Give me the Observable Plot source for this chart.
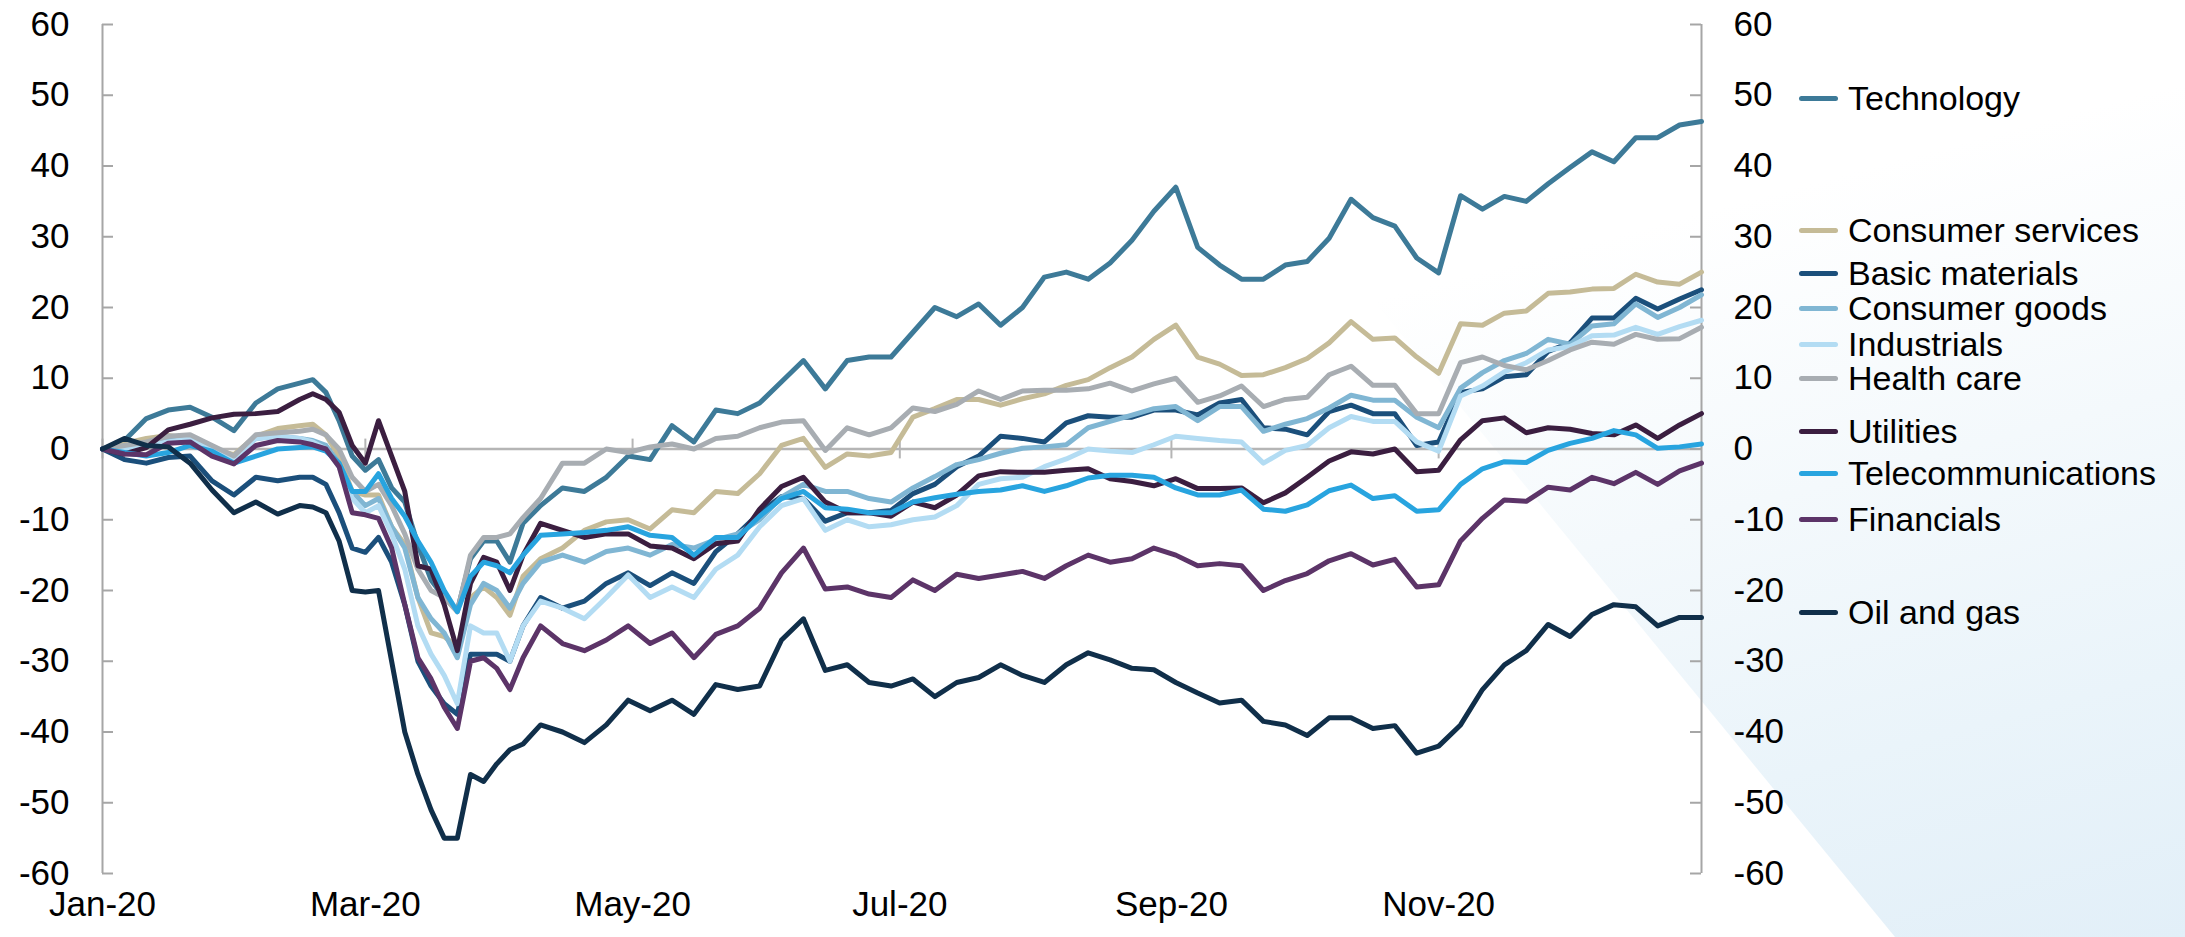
<!DOCTYPE html>
<html>
<head>
<meta charset="utf-8">
<script src="https://cdn.jsdelivr.net/npm/d3@7"></script>
<script src="https://cdn.jsdelivr.net/npm/@observablehq/plot@0.6"></script>
<style>
html, body { margin: 0; padding: 0; background: #ffffff; }
#wrap { position: relative; width: 2185px; height: 937px; overflow: hidden; font-family: "Liberation Sans", Arial, sans-serif; }
#bg { position: absolute; left: 1127px; top: 0; width: 1058px; height: 937px;
      clip-path: polygon(0 0, 1058px 0, 1058px 937px, 768px 937px);
      background: linear-gradient(165deg, #ffffff 0%, #ffffff 30%, #f4f9fc 55%, #eaf4fa 78%, #e2eff8 100%); }
#chart { position: absolute; left: 0; top: 0; }
#legend { position: absolute; left: 0; top: 0; width: 2185px; height: 937px; }
.item { position: absolute; left: 1799px; height: 36px; line-height: 36px; display: flex; align-items: center;
        font-size: 34px; color: #000; white-space: nowrap; }
.item .sw { width: 39px; height: 5px; border-radius: 3px; margin-right: 10px; flex: none; }
</style>
</head>
<body>
<div id="wrap"><div id="bg"></div><div id="chart"></div><div id="legend"></div></div>
<script>
// ---- data ----
const dates = ["2020-01-01","2020-01-06","2020-01-11","2020-01-16","2020-01-21","2020-01-26","2020-01-31","2020-02-05","2020-02-10","2020-02-15",
"2020-02-18","2020-02-21","2020-02-24","2020-02-27","2020-03-01","2020-03-04","2020-03-07","2020-03-10","2020-03-13","2020-03-16","2020-03-19","2020-03-22","2020-03-25","2020-03-28","2020-03-31","2020-04-03","2020-04-06",
"2020-04-10","2020-04-15","2020-04-20","2020-04-25","2020-04-30","2020-05-05","2020-05-10","2020-05-15","2020-05-20","2020-05-25","2020-05-30","2020-06-04","2020-06-09","2020-06-14","2020-06-19","2020-06-24","2020-06-29",
"2020-07-04","2020-07-09","2020-07-14","2020-07-19","2020-07-24","2020-07-29","2020-08-03","2020-08-08","2020-08-13","2020-08-18","2020-08-23","2020-08-28","2020-09-02","2020-09-07","2020-09-12","2020-09-17","2020-09-22","2020-09-27",
"2020-10-02","2020-10-07","2020-10-12","2020-10-17","2020-10-22","2020-10-27","2020-11-01","2020-11-06","2020-11-11","2020-11-16","2020-11-21","2020-11-26","2020-12-01","2020-12-06","2020-12-11","2020-12-16","2020-12-21","2020-12-26","2020-12-31"];

const technology = [0,1.2,4.3,5.5,5.9,4.5,2.6,6.5,8.5,9.3,
 9.8,8,4,-1,-3,-1.5,-5.5,-7.5,-13.5,-18.5,-21,-22.8,-15.5,-13,-13,-16,-10.5,
 -8,-5.5,-6,-4,-1,-1.5,3.3,1,5.5,5,6.5,9.5,12.5,8.5,12.5,13,13,
 16.5,20,18.7,20.5,17.5,20,24.3,25,24,26.3,29.5,33.6,37,28.5,26,24,24,26,
 26.5,29.8,35.3,32.7,31.5,27,24.9,35.8,33.9,35.7,35,37.5,39.8,42,40.6,44,44,45.8,46.3];
const consumerServices = [0,0.8,1.5,1.9,1.5,0,-0.8,1.8,2.9,3.3,
 3.5,2,-1,-6,-6.5,-6.5,-11,-13.5,-21,-26,-26.5,-28,-21,-19.5,-21,-23.5,-18,
 -15.5,-14,-11.5,-10.3,-10,-11.3,-8.6,-9,-6,-6.3,-3.5,0.5,1.5,-2.6,-0.7,-1,-0.5,
 4.5,5.7,7,7,6.2,7.1,7.8,9,9.8,11.5,13,15.5,17.5,13,12,10.4,10.5,11.5,
 12.8,15,18,15.5,15.7,13,10.7,17.7,17.5,19.2,19.5,22,22.2,22.6,22.7,24.7,23.6,23.3,25];
const basicMaterials = [0,-1.5,-2,-1.2,-1,-4.5,-6.5,-4,-4.5,-4,
 -4,-5,-9,-14,-14.6,-12.5,-16,-22,-30,-33.5,-36,-37.5,-29,-29,-29,-30,-25,
 -21,-22.5,-21.5,-19,-17.5,-19.3,-17.5,-19,-14.5,-12,-9,-6.7,-7,-10.2,-9,-9,-8.7,
 -6.3,-5,-2.5,-1,1.8,1.5,1,3.7,4.7,4.5,4.5,5.5,5.5,4.8,6.5,7,3,2.8,
 2,5.3,6.2,5,5,0.5,1,8,8.5,10.2,10.5,13.8,15,18.5,18.5,21.3,19.8,21.2,22.5];
const consumerGoods = [0,0,0.5,1.2,1.5,0,-1,1.5,1.8,1.5,
 1.2,0.5,-2,-6,-8,-7,-11,-14,-21,-24,-26,-29.5,-22,-19,-20,-22.5,-19,
 -16,-15,-16,-14.5,-14,-15,-13.5,-14,-12.8,-12,-10,-6.8,-5,-6,-6,-7,-7.5,
 -5.5,-3.9,-2.2,-1.5,-0.6,0.1,0.3,0.6,3,3.9,4.8,5.7,6,4,6,6,2.5,3.5,
 4.3,5.8,7.6,6.9,6.9,4.5,3,8.6,10.8,12.5,13.5,15.5,14.8,17.4,17.7,20.5,18.6,20,21.8];
const industrials = [0,0,0.5,1,1.5,0,-1.5,1.5,1.8,1.5,
 1,0,-2.5,-7,-9,-8,-12,-17,-25,-29,-32,-36,-25,-26,-26,-30,-25,
 -21.5,-22.5,-24,-21,-17.8,-21,-19.5,-21,-17,-15,-11,-8,-7,-11.5,-10,-11,-10.7,
 -10,-9.6,-8,-5,-4.2,-4,-2.5,-1.4,0,-0.3,-0.5,0.6,1.8,1.5,1.2,1,-2,-0.2,
 0.5,3,4.6,3.9,3.9,1,-0.3,7.5,8.9,10.9,12.2,14,14.5,16,16.1,17.2,16.2,17.3,18.2];
const healthCare = [0,0.5,1,1.8,2,0.5,-1,2,2.3,2.5,
 2.8,2,0,-4,-6,-5,-8,-12,-17,-20,-21,-23,-15,-12.5,-12.5,-12,-9.7,
 -7,-2,-2,0,-0.5,0.3,0.7,0,1.5,1.8,3,3.8,4,-0.2,3,2,3,
 5.8,5.3,6.3,8.2,7,8.2,8.3,8.3,8.5,9.3,8.2,9.2,10,6.6,7.5,8.9,6,7,
 7.3,10.5,11.7,9,9,5,5,12.2,13,11.8,11.2,12.5,14,15.1,14.8,16.2,15.5,15.6,17.2];
const utilities = [0,-0.7,0.2,2.7,3.5,4.4,4.9,5,5.3,7,
 7.8,7,5.2,0.5,-2,4,-1,-6,-16.5,-17,-22,-28.5,-19,-15.3,-16,-20,-15,
 -10.5,-11.5,-12.5,-12,-12,-13.7,-14,-15.5,-13.4,-13,-8.5,-5.3,-4,-7.5,-9,-9,-9.5,
 -7.5,-8.3,-6.5,-3.8,-3.2,-3.3,-3.3,-3,-2.8,-4.2,-4.6,-5.2,-4.2,-5.6,-5.6,-5.5,-7.6,-6.2,
 -4,-1.7,-0.4,-0.7,0,-3.2,-3,1.3,4,4.4,2.3,3,2.8,2.2,2,3.4,1.5,3.4,5];
const telecommunications = [0,-0.5,-1,-0.5,0.5,-0.3,-2,-1,0,0.2,
 0.3,-0.3,-2,-6,-6,-3.5,-7,-9.5,-13,-16,-20,-23,-18,-16,-16.5,-17.5,-15,
 -12.2,-12,-11.8,-11.5,-11,-12.2,-12.5,-15,-12.5,-12.5,-9.5,-7,-6,-8.3,-8.5,-9,-9,
 -7.5,-6.9,-6.4,-6,-5.8,-5.2,-6,-5.2,-4.1,-3.7,-3.7,-4,-5.5,-6.5,-6.5,-5.8,-8.5,-8.8,
 -7.9,-5.9,-5.1,-7,-6.6,-8.8,-8.6,-5,-2.8,-1.8,-1.9,-0.2,0.8,1.5,2.6,2,0.1,0.3,0.7];
const financials = [0,-0.7,-0.8,0.8,1,-1,-2.1,0.5,1.2,1,
 0.6,0,-2.5,-9,-9.3,-9.8,-14,-22,-29.5,-32.5,-36.5,-39.5,-30,-29.5,-31,-34,-29.5,
 -25,-27.5,-28.5,-27,-25,-27.5,-26,-29.5,-26.2,-25,-22.5,-17.5,-14,-19.8,-19.5,-20.5,-21,
 -18.5,-20,-17.7,-18.3,-17.8,-17.3,-18.3,-16.5,-15,-16,-15.5,-14,-15,-16.5,-16.2,-16.5,-20,-18.6,
 -17.6,-15.8,-14.8,-16.4,-15.6,-19.5,-19.2,-13,-9.8,-7.2,-7.4,-5.4,-5.8,-4,-4.9,-3.3,-5,-3.1,-2];
const oilAndGas = [0,1.5,0.5,0.3,-2,-5.8,-9,-7.5,-9.2,-8,
 -8.2,-9,-13,-20,-20.2,-20,-30,-40,-46,-51,-55,-55,-46,-47,-44.5,-42.5,-41.7,
 -39,-40,-41.5,-39,-35.5,-37,-35.5,-37.5,-33.3,-34,-33.5,-27,-24,-31.3,-30.5,-33,-33.5,
 -32.5,-35,-33,-32.3,-30.5,-32,-33,-30.5,-28.8,-29.8,-31,-31.2,-33,-34.5,-35.9,-35.5,-38.5,-39,
 -40.5,-38,-38,-39.5,-39.1,-43,-42,-39,-34,-30.5,-28.5,-24.8,-26.5,-23.4,-22,-22.3,-25,-23.8,-23.8];

const seriesNames = ["Technology","Consumer services","Basic materials","Consumer goods","Industrials","Health care","Utilities","Telecommunications","Financials","Oil and gas"];
const seriesValues = [technology, consumerServices, basicMaterials, consumerGoods, industrials, healthCare, utilities, telecommunications, financials, oilAndGas];

const yTicks = [-60,-50,-40,-30,-20,-10,0,10,20,30,40,50,60];
const monthTicks = ["2020-01-01","2020-03-01","2020-05-01","2020-07-01","2020-09-01","2020-11-01"];
const monthLabels = ["Jan-20","Mar-20","May-20","Jul-20","Sep-20","Nov-20"];
const xDomain = ["2020-01-01","2020-12-31"];

// ---- styles ----
const colors = ["#3d7a98","#c5bb97","#1b4f7b","#80b6d3","#b3dcf3","#a8adb2","#3b1e40","#28a4df","#5c3468","#102f4a"];
const legendCentre = [98, 230, 273, 308, 344, 378, 431, 473, 519, 612];

const parse = d3.utcParse("%Y-%m-%d");
const x0 = parse(xDomain[0]), x1 = parse(xDomain[1]);
const frameW = 2185 - 102 - 484;

const lineMarks = seriesNames.map((name, k) =>
  Plot.line(dates.map((d, i) => ({date: parse(d), value: seriesValues[k][i]})),
    {x: "date", y: "value", stroke: colors[k], strokeWidth: 5, strokeLinejoin: "round", strokeLinecap: "round"}));

const chart = Plot.plot({
  width: 2185, height: 937,
  marginLeft: 102, marginRight: 484, marginTop: 24, marginBottom: 64,
  x: {type: "utc", domain: [x0, x1], axis: null},
  y: {domain: [-60, 60], axis: null},
  style: {background: "transparent", fontFamily: "'Liberation Sans', Arial, sans-serif", color: "#000", overflow: "visible"},
  marks: [
    Plot.ruleY([0], {stroke: "#b5b5b5", strokeWidth: 2.5}),
    Plot.ruleX(monthTicks, {x: d => parse(d), y1: -1.4, y2: 1.4, stroke: "#b5b5b5", strokeWidth: 2}),
    Plot.ruleX([x0, x1], {stroke: "#a6a6a6", strokeWidth: 2}),
    Plot.tickY(yTicks, {y: d => d, insetRight: frameW - 11, stroke: "#a6a6a6", strokeWidth: 2}),
    Plot.tickY(yTicks, {y: d => d, insetLeft: frameW - 11, stroke: "#a6a6a6", strokeWidth: 2}),
    ...lineMarks,
    Plot.text(yTicks, {x: () => x0, y: d => d, text: d => String(d), textAnchor: "end", dx: -33, fontSize: 35, fill: "#000"}),
    Plot.text(yTicks, {x: () => x1, y: d => d, text: d => String(d), textAnchor: "start", dx: 32, fontSize: 35, fill: "#000"}),
    Plot.text(monthTicks, {x: d => parse(d), frameAnchor: "bottom", dy: 42, text: (d, i) => monthLabels[i], fontSize: 35, fill: "#000"})
  ]
});
document.getElementById("chart").appendChild(chart);

const legend = document.getElementById("legend");
seriesNames.forEach((name, k) => {
  const item = document.createElement("div");
  item.className = "item";
  item.style.top = (legendCentre[k] - 18) + "px";
  const sw = document.createElement("span");
  sw.className = "sw";
  sw.style.background = colors[k];
  const label = document.createElement("span");
  label.textContent = name;
  item.appendChild(sw);
  item.appendChild(label);
  legend.appendChild(item);
});
</script>
</body>
</html>
